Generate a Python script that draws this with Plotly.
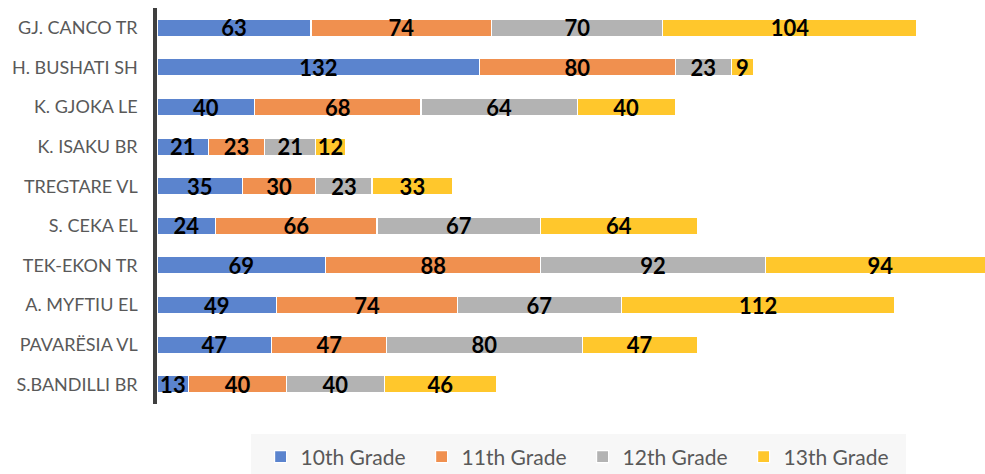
import plotly.graph_objects as go

schools = ["GJ. CANCO TR", "H. BUSHATI SH", "K. GJOKA LE", "K. ISAKU BR", "TREGTARE VL",
           "S. CEKA EL", "TEK-EKON TR", "A. MYFTIU EL", "PAVARËSIA VL", "S.BANDILLI BR"]
grade10 = [63, 132, 40, 21, 35, 24, 69, 49, 47, 13]
grade11 = [74, 80, 68, 23, 30, 66, 88, 74, 47, 40]
grade12 = [70, 23, 64, 21, 23, 67, 92, 67, 80, 40]
grade13 = [104, 9, 40, 12, 33, 64, 94, 112, 47, 46]
series_names = ["10th Grade", "11th Grade", "12th Grade", "13th Grade"]
colors = ["#5B84CE", "#F0904F", "#B3B3B3", "#FFC72C"]

fig = go.Figure()
for name, vals, col in zip(series_names, [grade10, grade11, grade12, grade13], colors):
    fig.add_trace(go.Bar(
        y=schools, x=vals, name=name, orientation="h",
        marker=dict(color=col, line=dict(color="white", width=1.2)),
        texttemplate="%{x}", textposition="inside", insidetextanchor="middle",
        textangle=0, constraintext="none",
        textfont=dict(family="Lato", size=22, color="black", weight="bold"),
    ))

# legend background panel
fig.add_shape(type="rect", xref="paper", yref="paper",
              x0=(251 - 157) / 828, x1=(906 - 157) / 828,
              y0=-70 / 396, y1=-30 / 396,
              fillcolor="#F7F7F7", line=dict(width=0), layer="below")

fig.update_layout(
    barmode="stack", bargap=0.57,
    width=985, height=474,
    margin=dict(l=157, r=0, t=8, b=70),
    plot_bgcolor="white", paper_bgcolor="white",
    font=dict(family="Lato", color="#595959"),
    showlegend=True,
    legend=dict(orientation="h", xanchor="center", x=0.514, yref="container",
                yanchor="middle", y=17 / 474,
                font=dict(size=21, color="#595959"), bgcolor="rgba(0,0,0,0)",
                entrywidth=116, entrywidthmode="pixels", itemwidth=30, traceorder="normal"),
    xaxis=dict(range=[0, 338.8], visible=False, showgrid=False, zeroline=False),
    yaxis=dict(autorange="reversed", showline=True, linewidth=3.5, linecolor="#3F3F3F",
               ticks="", ticklabelstandoff=12, tickfont=dict(size=18, color="#595959"),
               showgrid=False, zeroline=False),
)

fig.write_html("out.html", config={"displayModeBar": False},
               post_script="document.body.style.margin='0';")
